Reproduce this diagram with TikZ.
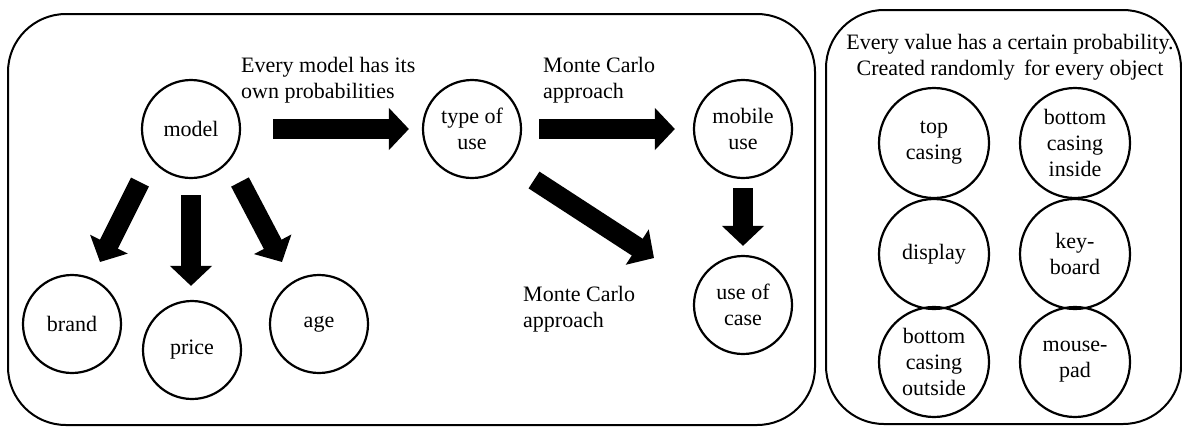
\documentclass[tikz,border=0pt]{standalone}
\usepackage{fontspec}
\setmainfont{Liberation Serif}
\usetikzlibrary{arrows.meta,calc}
\begin{document}
\begin{tikzpicture}[x=1pt,y=-1pt,
  every node/.style={font=\fontsize{22}{26}\selectfont},
  bubble/.style={draw,circle,line width=2.2pt,minimum size=98pt,inner sep=0pt,align=center},
  bigbubble/.style={bubble,minimum size=110pt},
  panel/.style={draw,line width=2pt,rounded corners=58pt},
  note/.style={align=left,anchor=west,inner sep=0pt},
  bigarrow/.style={line width=20pt,-{Triangle[width=41pt,length=20pt]}}]
\useasboundingbox (0,0) rectangle (1182,426);
% panels
\draw[panel] (8,14) rectangle (815,425);
\draw[panel] (826,10) rectangle (1181,424);
% left part nodes
\node[bubble] (model) at (191,129) {model};
\node[bubble] (type) at (472,129) {type of\\use};
\node[bubble] (mobile) at (743,129) {mobile\\use};
\node[bubble] (usecase) at (743,305) {use of\\case};
\node[bubble] (brand) at (72,324) {brand};
\node[bubble] (price) at (192,350) {price};
\node[bubble] (age) at (319,324) {age};
% labels
\node[note] (lblmodel) at (241,80) {Every model has its\\own probabilities};
\node[note] (lblmc1) at (543,80) {Monte Carlo\\approach};
\node[note] (lblmc2) at (523,309) {Monte Carlo\\approach};
\node[align=center,inner sep=0pt] (lblright) at (1010,57) {Every value has a certain probability.\\Created randomly\, for every object};
% right part nodes
\node[bigbubble] (topc) at (934,143) {top\\casing};
\node[bigbubble] (bci) at (1075,143) {bottom\\casing\\inside};
\node[bigbubble] (disp) at (934,254) {display};
\node[bigbubble] (kb) at (1075,254) {key-\\board};
\node[bigbubble] (bco) at (934,362) {bottom\\casing\\outside};
\node[bigbubble] (mp) at (1075,362) {mouse-\\pad};
% arrows
\draw[bigarrow] ($(model.east)+(32,0)$) -- ($(type.west)+(-13,0)$);
\draw[bigarrow] ($(type.east)+(17,0)$) -- ($(mobile.west)+(-18,0)$);
\draw[bigarrow] ($(mobile.south)+(0,9)$) -- ($(usecase.north)+(0,-9)$);
\draw[bigarrow] ($(type)+(62,51)$) -- ($(usecase)+(-89,-47)$);
\draw[bigarrow] ($(model.south)+(0,16)$) -- ($(model.south |- price.north)+(0,-14)$);
\draw[bigarrow] ($(model)+(-51,53)$) -- ($(brand)+(28,-62)$);
\draw[bigarrow] ($(model)+(49,53)$) -- ($(age)+(-37,-62)$);
\end{tikzpicture}
\end{document}
